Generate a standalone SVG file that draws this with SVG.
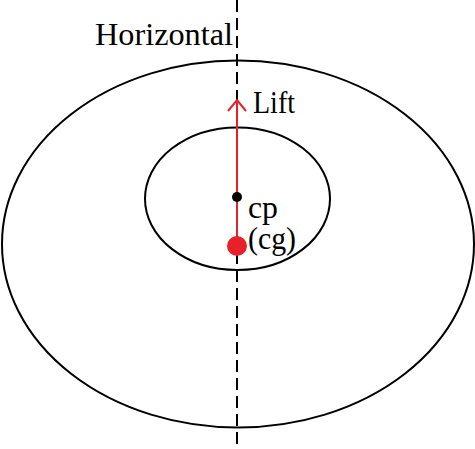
<svg xmlns="http://www.w3.org/2000/svg" width="475" height="449" viewBox="0 0 475 449">
<style>
.shape{fill:none;stroke:#000;stroke-width:2}
.lbl{font-family:"Liberation Serif","Times New Roman",serif;font-size:31px;fill:#000}
.red{stroke:#e8202a;stroke-width:2;fill:none}
</style>
<rect width="475" height="449" fill="#fff"/>
<g id="outer"><ellipse class="shape" cx="238" cy="244" rx="236" ry="183.5"/></g>
<g id="inner"><ellipse class="shape" cx="237.5" cy="198.7" rx="92.5" ry="71.3"/></g>
<g id="connectors">
<line x1="237" y1="0" x2="237" y2="449" stroke="#000" stroke-width="2" stroke-dasharray="12,6"/>
<line class="red" x1="237" y1="100" x2="237" y2="246"/>
<polyline class="red" points="228,111 237,100 246,111"/>
</g>
<g id="horizontal"><text class="lbl" x="95" y="45" textLength="138" lengthAdjust="spacingAndGlyphs">Horizontal</text></g>
<g id="lift"><text class="lbl" x="253" y="113" textLength="42" lengthAdjust="spacingAndGlyphs">Lift</text></g>
<g id="cp"><circle cx="237" cy="197" r="5" fill="#000"/><text class="lbl" x="248" y="218" textLength="30" lengthAdjust="spacingAndGlyphs">cp</text></g>
<g id="cg"><circle cx="237" cy="246" r="10" fill="#e8202a"/><text class="lbl" x="248" y="249" textLength="48" lengthAdjust="spacingAndGlyphs">(cg)</text></g>
</svg>
